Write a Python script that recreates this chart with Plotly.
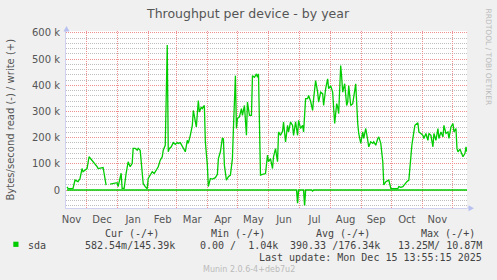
import pandas as pd
import plotly.graph_objects as go

# ---------------- data ----------------
DAY0 = "2024-11-11 14:00"          # day 0 of the series
RANGE_START = "2024-11-10 14:00"
RANGE_END = "2025-12-15 14:00"

write_day = [0, 1, 3, 6, 8, 11, 13, 15, 16, 19, 20, 22, 25, 28, 30, 31, 35, 36, 39, 40,
             43, 46, 48, 50, 51, 54, 55, 57, 59, 61, 63, 65, 66, 68, 70, 71, 73, 75, 76, 78,
             80, 81, 83, 85, 87, 90, 91, 93, 95, 96, 98, 100, 101, 102, 104, 106, 108, 110, 111, 113,
             115, 116, 118, 120, 121, 123, 125, 126, 127, 129, 130, 131, 132, 134, 135, 137, 138, 140, 141, 143,
             145, 146, 148, 150, 151, 153, 155, 156, 157, 159, 161, 163, 165, 166, 168, 169, 170, 172, 174, 175,
             177, 179, 180, 182, 184, 185, 187, 189, 190, 191, 192, 193, 195, 198, 200, 201, 203, 205, 206, 208,
             210, 211, 213, 215, 216, 218, 220, 221, 223, 225, 226, 228, 230, 231, 233, 235, 236, 238, 240, 241,
             243, 245, 246, 248, 250, 251, 253, 255, 256, 258, 260, 261, 263, 265, 266, 267, 269, 270, 271, 273,
             274, 275, 277, 279, 280, 281, 283, 285, 286, 288, 290, 291, 293, 295, 296, 298, 300, 301, 303, 305,
             306, 308, 310, 311, 313, 315, 316, 318, 321, 323, 326, 330, 331, 333, 335, 336, 339, 341, 342, 344,
             345, 347, 350, 351, 353, 355, 356, 358, 360, 361, 363, 365, 366, 368, 370, 371, 373, 375, 376, 378,
             380, 381, 383, 385, 386, 388, 389, 390, 392, 394, 395, 397, 398, 399]

write_k = [12, 6, 5, 6, 38, 32, 44, 82, 70, 79, 82, 127, 114, 101, 89, 82, 85, 86, 19, None,
           22, 24, 25, 28, 13, 64, 6, 6, 64, 108, 89, 101, 159, 159, 152, 159, 152, 57, 25, 13,
           5, 44, 57, 70, 63, 82, 89, 114, 127, 152, 171, 554, 146, 158, 165, 181, 174, 181, 178, 181,
           165, 158, 146, 190, 178, 209, 247, 304, 285, 241, 292, 342, 298, 317, 311, 323, 184, 95, 13, 44,
           42, 44, 47, 60, 120, 146, 199, 196, 95, 38, 51, 57, 120, 235, 437, 235, 273, 279, 311, 285,
           323, 209, 336, 285, 285, 437, 431, 444, 431, 444, 171, 57, 60, 63, 133, 108, 120, 82, 127, 158,
           108, 222, 209, 224, 260, 184, 247, 222, 260, 247, 209, 260, 209, 266, 235, 247, 222, 349, 349, 361,
           339, 304, 349, 418, 374, 336, 374, 368, 323, 387, 425, 387, 399, 374, 311, 254, 330, 317, 292, 476,
           431, 374, 406, 323, 336, 399, 323, 330, 355, 406, 254, 216, 178, 222, 197, 235, 190, 165, 184, 178,
           184, 171, 197, 203, 178, 108, 19, 32, 38, 6, 5, 5, 13, 10, 13, 19, 32, 38, 95, 171,
           197, 247, 257, 222, 216, 209, 197, 216, 190, 216, 209, 165, 216, 190, 235, 197, 222, 203, 247, 216,
           222, 197, 241, 254, 222, 235, 158, 146, 156, 140, 127, 140, 165, 146]

read_day = [0, 229, 230, 231, 236, 237, 238, 244, 245, 246, 399]
read_k = [0, 0, 50, 0, 0, 59, 0, 0, 4, 0, 0]

y_tickvals = [0, 100000, 200000, 300000, 400000, 500000, 600000]
y_ticktext = ["0", "100 k", "200 k", "300 k", "400 k", "500 k", "600 k"]

legend_header = ["Cur (-/+)", "Min (-/+)", "Avg (-/+)", "Max (-/+)"]
legend_values = ["582.54m/145.39k", "0.00 /  1.04k", "390.33 /176.34k", "13.25M/ 10.87M"]

# ---------------- geometry helpers (pixels -> paper) ----------------
W, H = 497, 280
L, R, T, B = 66, 467, 31, 208


def px(x):
    return (x - L) / (R - L)


def py(y):
    return (B - y) / (B - T)


base = pd.Timestamp(DAY0)
w_dates = [base + pd.Timedelta(days=d) for d in write_day]
w_vals = [None if v is None else v * 1000 for v in write_k]
r_dates = [base + pd.Timedelta(days=d) for d in read_day]
r_vals = [-v * 1000 for v in read_k]

GREEN = "#00CC00"
fig = go.Figure()
fig.add_trace(go.Scatter(x=r_dates, y=r_vals, mode="lines",
                         line=dict(color=GREEN, width=1.4), connectgaps=False,
                         hoverinfo="skip"))
fig.add_trace(go.Scatter(x=w_dates, y=w_vals, mode="lines",
                         line=dict(color=GREEN, width=1.3), connectgaps=False,
                         hoverinfo="skip"))

MAJ = "#EE9090"
MIN = "#BEBEBE"
AX = "#D0D0F0"
TXT = "#555555"

fig.update_layout(
    width=W, height=H, autosize=False,
    margin=dict(l=L, r=W - R, t=T, b=H - B, pad=0),
    paper_bgcolor="#F0F0F0", plot_bgcolor="#FFFFFF",
    showlegend=False,
    font=dict(family="DejaVu Sans", size=10, color=TXT),
    xaxis=dict(type="date", range=[RANGE_START, RANGE_END],
               tick0="2024-11-01", dtick="M1", tickformat="%b",
               ticklabelmode="period",
               showgrid=True, gridcolor=MAJ, griddash="1px,1px", gridwidth=1,
               showline=True, linecolor=AX, linewidth=1,
               ticks="outside", ticklen=2, tickcolor="rgba(0,0,0,0)",
               tickfont=dict(family="DejaVu Sans", size=10, color=TXT),
               zeroline=False, fixedrange=True),
    yaxis=dict(range=[-68800, 607600],
               tickvals=y_tickvals, ticktext=y_ticktext,
               showgrid=True, gridcolor=MAJ, griddash="1px,1px", gridwidth=1,
               minor=dict(dtick=20000, tick0=0, showgrid=True, gridcolor=MIN,
                          griddash="1px,1px", gridwidth=1),
               showline=True, linecolor=AX, linewidth=1,
               ticks="outside", ticklen=3, tickcolor="rgba(0,0,0,0)",
               tickfont=dict(family="DejaVu Sans", size=10, color=TXT),
               zeroline=False, fixedrange=True),
)

shapes = [
    # axis arrows
    dict(type="path", xref="paper", yref="paper",
         path=f"M {px(66.5)} {py(26)} L {px(63.5)} {py(31.5)} L {px(69.5)} {py(31.5)} Z",
         fillcolor="#B8C0F0", line=dict(width=0)),
    dict(type="line", xref="paper", yref="paper", x0=px(467), x1=px(470), y0=0, y1=0,
         line=dict(color=AX, width=1)),
    dict(type="path", xref="paper", yref="paper",
         path=f"M {px(474)} {py(208.3)} L {px(468.5)} {py(205.3)} L {px(468.5)} {py(211.3)} Z",
         fillcolor="#B8C0F0", line=dict(width=0)),
    # legend swatch
    dict(type="rect", xref="paper", yref="paper",
         x0=px(13.3), x1=px(18.5), y0=py(241.7), y1=py(246.9),
         fillcolor=GREEN, line=dict(width=0)),
]
fig.update_layout(shapes=shapes)

MONO = dict(family="DejaVu Sans Mono", size=10, color="#444444")
ann = []


def text(x, y, s, font, xanchor="center", angle=0):
    ann.append(dict(x=px(x), y=py(y), xref="paper", yref="paper", text=s,
                    showarrow=False, xanchor=xanchor, yanchor="middle",
                    font=font, textangle=angle, borderpad=0))


text(248, 13.5, "Throughput per device - by year",
     dict(family="DejaVu Sans", size=12.5, color=TXT))
text(10.5, 120, "Bytes/second read (-) / write (+)",
     dict(family="DejaVu Sans", size=10, color=TXT), angle=-90)
text(488.5, 57, "RRDTOOL / TOBI OETIKER",
     dict(family="DejaVu Sans", size=7.5, color="#BBBBBB"), angle=90)

header_right = [160, 266, 371, 476]
for s, xr in zip(legend_header, header_right):
    text(xr, 233.7, s, MONO, xanchor="right")
text(26.7, 245.5, "sda", MONO, xanchor="left")
value_right = [176, 279.3, 381, 483.3]
for s, xr in zip(legend_values, value_right):
    text(xr, 245.5, s, MONO, xanchor="right")
text(483.3, 257.7, "Last update: Mon Dec 15 13:55:15 2025", MONO, xanchor="right")
text(249, 269.3, "Munin 2.0.6-4+deb7u2",
     dict(family="DejaVu Sans", size=8, color="#BBBBBB"))

fig.update_layout(annotations=ann)
fig.write_html("out.html")
